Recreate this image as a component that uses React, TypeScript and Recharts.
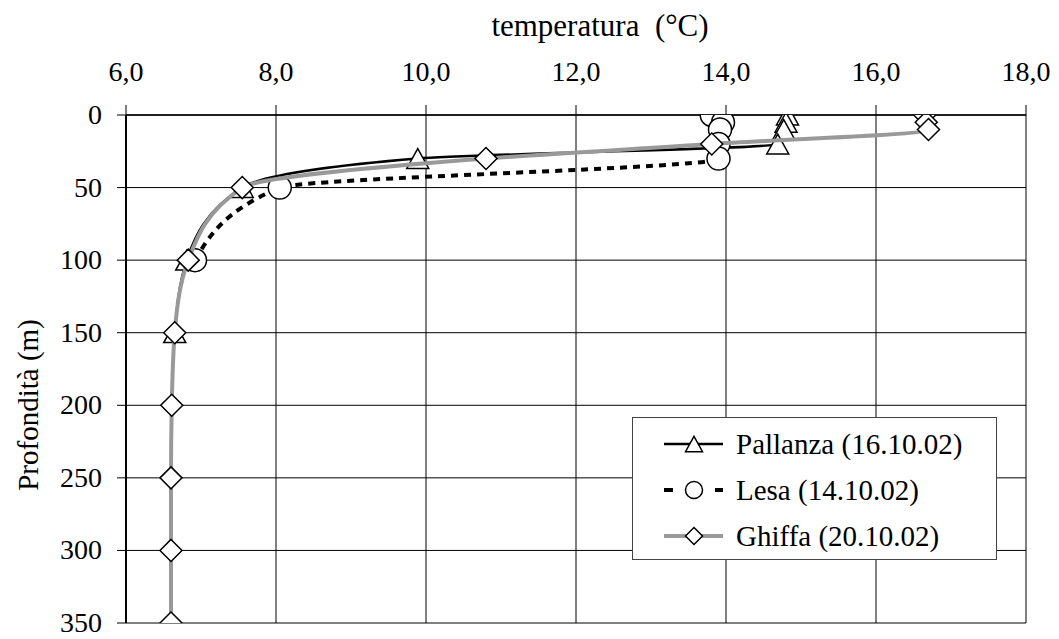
import React from 'react'
import { ScatterChart, Scatter, XAxis, YAxis, CartesianGrid, Legend } from 'recharts'

// profili termici (profondità in m, temperatura in °C)
const depthPallanza = [0, 5, 10, 20, 30, 50, 100, 150]
const tempPallanza = [14.82, 14.8, 14.77, 14.69, 9.89, 7.55, 6.81, 6.65]

const depthLesa = [0, 5, 10, 20, 30, 50, 100]
const tempLesa = [13.81, 13.96, 13.92, 13.9, 13.9, 8.05, 6.92]

const depthGhiffa = [0, 5, 10, 20, 30, 50, 100, 150, 200, 250, 300, 350]
const tempGhiffa = [16.65, 16.67, 16.7, 13.81, 10.8, 7.55, 6.83, 6.65, 6.61, 6.6, 6.6, 6.6]

const tempTicks = [6, 8, 10, 12, 14, 16, 18]
const depthTicks = [0, 50, 100, 150, 200, 250, 300, 350]

const seriesNames = ['Pallanza (16.10.02)', 'Lesa (14.10.02)', 'Ghiffa (20.10.02)']

const toPoints = (depths: number[], temps: number[]) =>
  depths.map((d, i) => ({ d, t: temps[i] }))

const FONT = "'Liberation Serif', 'Times New Roman', 'DejaVu Serif', serif"

const Triangle = ({ cx, cy, size = 22 }: any) => {
  const h = size * 0.9
  return (
    <path
      d={`M${cx},${cy - h / 2} L${cx + size / 2},${cy + h / 2} L${cx - size / 2},${cy + h / 2} Z`}
      fill="#fff"
      stroke="#000"
      strokeWidth={1.5}
    />
  )
}

const Circle = ({ cx, cy, size = 23 }: any) => (
  <circle cx={cx} cy={cy} r={size / 2} fill="#fff" stroke="#000" strokeWidth={1.5} />
)

const Diamond = ({ cx, cy, size = 22 }: any) => {
  const r = size / 2
  return (
    <path
      d={`M${cx},${cy - r} L${cx + r},${cy} L${cx},${cy + r} L${cx - r},${cy} Z`}
      fill="#fff"
      stroke="#000"
      strokeWidth={1.5}
    />
  )
}

const TempTick = ({ x, y, payload }: any) => (
  <text x={x} y={y - 22} textAnchor="middle" style={{ fontFamily: FONT, fontSize: 28 }} fill="#000">
    {payload.value.toFixed(1).replace('.', ',')}
  </text>
)

const DepthTick = ({ x, y, payload }: any) => (
  <text x={x - 13} y={y + 9} textAnchor="end" style={{ fontFamily: FONT, fontSize: 28 }} fill="#000">
    {payload.value}
  </text>
)

const TitleLabel = ({ viewBox }: any) => (
  <text
    x={viewBox.x + viewBox.width / 2 + 24}
    y={28}
    textAnchor="middle"
    fill="#000"
    style={{ fontFamily: FONT, fontSize: 31, whiteSpace: 'pre' }}
  >
    {'temperatura  (°C)'}
  </text>
)

const DepthLabel = () => (
  <text
    x={30}
    y={397}
    transform="rotate(-90 30 397)"
    textAnchor="middle"
    fill="#000"
    style={{ fontFamily: FONT, fontSize: 29 }}
  >
    Profondità (m)
  </text>
)

const LegendSample = ({ index }: { index: number }) => {
  if (index === 0) {
    return (
      <svg width={103} height={47}>
        <line x1={31} y1={23} x2={90} y2={23} stroke="#000" strokeWidth={2.5} />
        <Triangle cx={61} cy={23} size={17} />
      </svg>
    )
  }
  if (index === 1) {
    return (
      <svg width={103} height={47}>
        <rect x={31} y={21} width={9} height={4} fill="#000" />
        <rect x={82} y={21} width={8} height={4} fill="#000" />
        <Circle cx={61} cy={23} size={17} />
      </svg>
    )
  }
  return (
    <svg width={103} height={47}>
      <line x1={31} y1={23} x2={90} y2={23} stroke="#999" strokeWidth={4} />
      <Diamond cx={61} cy={23} size={17} />
    </svg>
  )
}

const LegendBox = () => (
  <div
    style={{
      width: 365,
      height: 143,
      border: '1px solid #444',
      background: '#fff',
      paddingTop: 3,
      boxSizing: 'border-box',
    }}
  >
    {seriesNames.map((name, i) => (
      <div key={name} style={{ display: 'flex', alignItems: 'center', height: 46 }}>
        <LegendSample index={i} />
        <span style={{ fontFamily: FONT, fontSize: 29, color: '#000', lineHeight: '46px' }}>{name}</span>
      </div>
    ))}
  </div>
)

export default function App() {
  return (
    <ScatterChart width={1051} height={631} margin={{ top: 0, right: 33, bottom: 16, left: 0 }}>
      <CartesianGrid stroke="#000" strokeWidth={1} />
      <XAxis
        type="number"
        dataKey="t"
        orientation="top"
        domain={[6, 18]}
        ticks={tempTicks}
        height={107}
        tickSize={10}
        axisLine={{ stroke: '#000', strokeWidth: 1.5 }}
        tickLine={{ stroke: '#000' }}
        tick={<TempTick />}
        label={<TitleLabel />}
        allowDataOverflow
      />
      <YAxis
        type="number"
        dataKey="d"
        domain={[0, 350]}
        reversed
        ticks={depthTicks}
        width={118}
        tickSize={9}
        axisLine={{ stroke: '#000', strokeWidth: 2 }}
        tickLine={{ stroke: '#000' }}
        tick={<DepthTick />}
        label={<DepthLabel />}
        allowDataOverflow
      />
      <Legend
        layout="vertical"
        align="center"
        verticalAlign="middle"
        content={<LegendBox />}
        wrapperStyle={{ left: 624, top: 409, width: 365 }}
      />
      <Scatter
        name={seriesNames[0]}
        data={toPoints(depthPallanza, tempPallanza)}
        line={{ stroke: '#000', strokeWidth: 2.5 }}
        lineJointType="monotoneY"
        shape={(p: any) => <Triangle cx={p.cx} cy={p.cy} />}
        isAnimationActive={false}
      />
      <Scatter
        name={seriesNames[1]}
        data={toPoints(depthLesa, tempLesa)}
        line={{ stroke: '#000', strokeWidth: 4, strokeDasharray: '7 6' }}
        lineJointType="monotoneY"
        shape={(p: any) => <Circle cx={p.cx} cy={p.cy} />}
        isAnimationActive={false}
      />
      <Scatter
        name={seriesNames[2]}
        data={toPoints(depthGhiffa, tempGhiffa)}
        line={{ stroke: '#999', strokeWidth: 4 }}
        lineJointType="monotoneY"
        shape={(p: any) => <Diamond cx={p.cx} cy={p.cy} />}
        isAnimationActive={false}
      />
    </ScatterChart>
  )
}
